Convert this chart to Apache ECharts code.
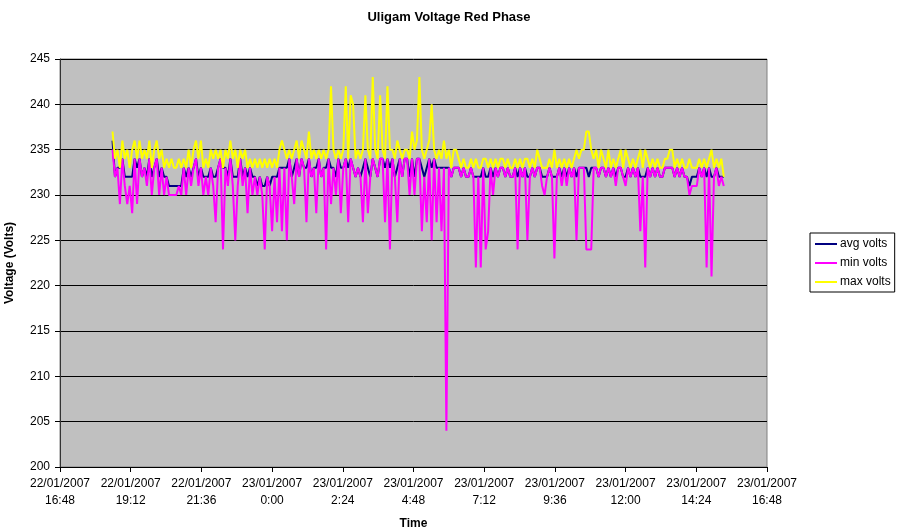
<!DOCTYPE html>
<html>
<head>
<meta charset="utf-8">
<script src="https://cdn.jsdelivr.net/npm/echarts@6/dist/echarts.min.js"></script>
<style>
  html, body { margin: 0; padding: 0; background: #fff; }
  #chart { width: 898px; height: 531px; }
</style>
</head>
<body>
<div id="chart"></div>
<script>
// readings every 5 minutes, first one at 18:35 (107 min after the 16:48 axis start)
var startMinute = 107;
var stepMinutes = 5;

var xTickLabels = [
  '22/01/2007\n16:48', '22/01/2007\n19:12', '22/01/2007\n21:36', '23/01/2007\n0:00',
  '23/01/2007\n2:24', '23/01/2007\n4:48', '23/01/2007\n7:12', '23/01/2007\n9:36',
  '23/01/2007\n12:00', '23/01/2007\n14:24', '23/01/2007\n16:48'
];

var avgVolts = [
  236, 232, 233, 233, 234, 232, 232, 232, 232, 234,
  233, 234, 232, 233, 232, 234, 232, 233, 234, 232,
  233, 232, 232, 231, 231, 231, 231, 231, 231, 233,
  232, 233, 232, 233, 234, 232, 233, 232, 232, 232,
  233, 232, 232, 233, 234, 233, 233, 232, 234, 232,
  232, 232, 234, 232, 233, 232, 233, 232, 232, 231,
  232, 231, 231, 232, 231, 232, 232, 232, 233, 233,
  233, 233, 234, 232, 233, 234, 232, 234, 233, 233,
  234, 232, 233, 233, 234, 232, 233, 233, 234, 233,
  233, 232, 234, 233, 233, 234, 233, 234, 233, 232,
  233, 232, 233, 234, 233, 232, 234, 233, 232, 234,
  234, 233, 234, 233, 234, 232, 233, 234, 232, 234,
  234, 232, 234, 232, 234, 234, 233, 232, 233, 234,
  233, 234, 233, 233, 233, 233, 233, 233, 232, 233,
  233, 233, 232, 233, 232, 232, 233, 232, 232, 232,
  232, 233, 232, 232, 233, 232, 233, 232, 233, 233,
  232, 233, 232, 232, 233, 232, 233, 232, 233, 232,
  232, 233, 232, 233, 233, 232, 232, 232, 233, 232,
  232, 232, 233, 232, 233, 232, 233, 232, 233, 232,
  233, 233, 233, 233, 232, 233, 233, 233, 232, 233,
  233, 232, 233, 232, 233, 232, 233, 233, 232, 232,
  233, 232, 233, 232, 233, 232, 232, 232, 233, 232,
  233, 232, 233, 232, 232, 233, 233, 233, 233, 232,
  233, 232, 233, 232, 232, 231, 232, 232, 232, 233,
  232, 233, 232, 233, 232, 232, 233, 232, 232, 232
];

var minVolts = [
  235, 232, 233, 229, 234, 231, 229, 231, 228, 234,
  229, 234, 232, 233, 231, 234, 230, 233, 234, 230,
  233, 230, 232, 230, 230, 230, 230, 231, 230, 233,
  230, 233, 231, 233, 234, 231, 233, 230, 232, 230,
  233, 231, 227, 233, 234, 224, 233, 231, 234, 231,
  225, 231, 234, 231, 233, 228, 233, 230, 232, 230,
  232, 230, 224, 232, 231, 226, 232, 227, 233, 226,
  233, 225, 234, 232, 229, 234, 232, 234, 233, 227,
  234, 232, 233, 228, 234, 232, 233, 224, 234, 229,
  233, 230, 234, 228, 233, 234, 227, 234, 233, 232,
  233, 232, 227, 234, 228, 232, 234, 233, 232, 234,
  234, 227, 234, 224, 234, 232, 227, 234, 232, 234,
  234, 230, 234, 230, 234, 234, 226, 232, 227, 234,
  225, 234, 227, 233, 226, 233, 204, 233, 232, 233,
  233, 233, 232, 233, 232, 232, 233, 232, 222, 232,
  222, 233, 224, 226, 233, 230, 233, 232, 233, 233,
  232, 233, 232, 232, 233, 224, 233, 232, 233, 225,
  232, 233, 232, 233, 233, 231, 230, 232, 233, 232,
  223, 232, 233, 231, 233, 231, 233, 232, 233, 225,
  233, 233, 233, 224, 224, 224, 233, 233, 232, 233,
  233, 232, 233, 232, 233, 231, 233, 233, 232, 231,
  233, 232, 233, 232, 233, 226, 232, 222, 233, 232,
  233, 232, 233, 232, 232, 233, 233, 233, 233, 232,
  233, 232, 233, 232, 232, 230, 231, 231, 231, 233,
  232, 233, 222, 233, 221, 232, 233, 231, 232, 231
];

var maxVolts = [
  237, 234, 235, 233, 236, 234, 235, 233, 235, 236,
  234, 236, 234, 235, 234, 236, 233, 235, 236, 234,
  235, 233, 234, 233, 234, 233, 233, 234, 233, 234,
  233, 235, 233, 235, 236, 234, 236, 233, 234, 233,
  235, 234, 235, 234, 235, 233, 235, 234, 236, 234,
  235, 233, 235, 234, 235, 233, 234, 233, 234, 233,
  234, 233, 234, 233, 234, 233, 234, 233, 235, 236,
  235, 234, 235, 234, 235, 236, 234, 236, 235, 234,
  237, 234, 235, 234, 235, 234, 235, 234, 235, 242,
  235, 234, 235, 234, 235, 242, 234, 241, 240, 234,
  235, 234, 235, 241, 235, 234, 243, 235, 234, 241,
  235, 234, 242, 235, 235, 234, 236, 235, 234, 235,
  235, 234, 237, 235, 236, 243, 235, 234, 235, 236,
  240, 235, 234, 235, 234, 236, 234, 235, 233, 235,
  235, 234, 233, 234, 233, 233, 234, 233, 234, 233,
  233, 234, 234, 233, 234, 233, 234, 233, 234, 234,
  233, 234, 233, 233, 234, 233, 234, 233, 234, 234,
  233, 234, 233, 235, 234, 233, 233, 233, 234, 233,
  235, 233, 234, 233, 234, 233, 234, 233, 234, 235,
  234, 235, 235, 237, 237, 235, 234, 235, 233, 235,
  234, 233, 235, 233, 234, 233, 234, 235, 233, 235,
  234, 233, 234, 233, 234, 235, 233, 235, 234, 233,
  234, 233, 234, 233, 233, 234, 234, 235, 235, 233,
  234, 233, 234, 233, 233, 234, 233, 233, 233, 234,
  233, 234, 233, 234, 235, 233, 234, 233, 234, 232
];

var fontFamily = 'Liberation Sans, Arial, sans-serif';

function pairs(values) {
  return values.map(function (v, i) { return [startMinute + i * stepMinutes, v]; });
}

var myChart = echarts.init(document.getElementById('chart'));

myChart.setOption({
  animation: false,
  backgroundColor: '#ffffff',
  textStyle: { fontFamily: fontFamily },
  title: {
    text: 'Uligam Voltage Red Phase',
    left: 'center',
    top: 6,
    textStyle: { fontSize: 13, fontWeight: 'bold', color: '#000', fontFamily: fontFamily }
  },
  legend: {
    orient: 'vertical',
    left: 810,
    top: 233,
    padding: [5, 4, 4, 5],
    itemGap: 7,
    itemWidth: 22,
    itemHeight: 2,
    icon: 'rect',
    backgroundColor: '#ffffff',
    borderColor: '#000',
    borderWidth: 1,
    borderRadius: 0,
    textStyle: { fontSize: 12, color: '#000', fontFamily: fontFamily, padding: [0, 0, 0, -2] },
    data: ['avg volts', 'min volts', 'max volts']
  },
  grid: {
    left: 60,
    right: 131,
    top: 59,
    bottom: 64,
    outerBoundsMode: 'none',
    containLabel: false,
    show: true,
    backgroundColor: '#c0c0c0',
    borderColor: '#808080',
    borderWidth: 1
  },
  xAxis: {
    type: 'value',
    min: 0,
    max: 1440,
    interval: 144,
    name: 'Time',
    nameLocation: 'middle',
    nameGap: 51,
    nameTextStyle: { fontSize: 12, fontWeight: 'bold', color: '#000' },
    axisLine: { lineStyle: { color: '#000', width: 1 } },
    axisTick: { show: true, length: 5, lineStyle: { color: '#000' } },
    axisLabel: {
      color: '#000',
      fontSize: 12,
      lineHeight: 17,
      margin: 8,
      formatter: function (v) { return xTickLabels[Math.round(v / 144)]; }
    },
    splitLine: { show: false }
  },
  yAxis: {
    type: 'value',
    min: 200,
    max: 245,
    interval: 5,
    name: 'Voltage (Volts)',
    nameLocation: 'middle',
    nameGap: 44,
    nameTextStyle: { fontSize: 12, fontWeight: 'bold', color: '#000' },
    axisLine: { show: true, lineStyle: { color: '#333', width: 1 } },
    axisTick: { show: true, length: 5, lineStyle: { color: '#000' } },
    axisLabel: { color: '#000', fontSize: 12, margin: 10 },
    splitLine: { show: true, lineStyle: { color: '#000', width: 1 } }
  },
  series: [
    {
      name: 'avg volts',
      type: 'line',
      data: pairs(avgVolts),
      symbol: 'none',
      lineStyle: { color: '#000080', width: 2 },
      itemStyle: { color: '#000080' }
    },
    {
      name: 'min volts',
      type: 'line',
      data: pairs(minVolts),
      symbol: 'none',
      lineStyle: { color: '#ff00ff', width: 2 },
      itemStyle: { color: '#ff00ff' }
    },
    {
      name: 'max volts',
      type: 'line',
      data: pairs(maxVolts),
      symbol: 'none',
      lineStyle: { color: '#ffff00', width: 2 },
      itemStyle: { color: '#ffff00' }
    }
  ]
});
</script>
</body>
</html>
